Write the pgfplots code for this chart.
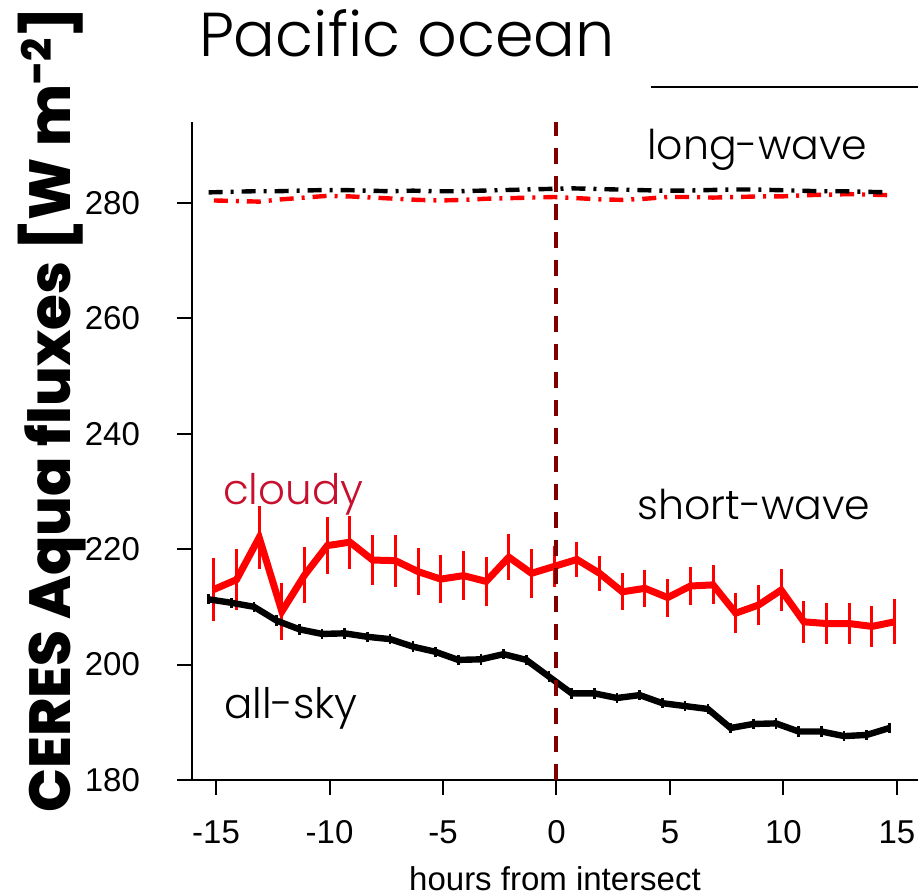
\documentclass[border=0pt]{standalone}
\usepackage{pgfplots}
\pgfplotsset{compat=1.18}
\usepackage{pgfplotstable}
\usepackage{fontspec}
\setmainfont{Liberation Sans}
\newfontfamily\futura{Poppins}[UprightFont=* Light, BoldFont=* ExtraBold]
\definecolor{vline}{HTML}{7F0000}
\definecolor{cloudyc}{HTML}{C8102E}

\pgfplotstableread{
x y e
-15.33 211.3 0.9
-14.33 210.7 0.9
-13.33 210.0 0.9
-12.33 207.6 0.9
-11.33 206.1 0.9
-10.33 205.3 0.9
-9.33 205.4 0.9
-8.33 204.8 0.9
-7.33 204.4 0.9
-6.33 203.1 0.9
-5.33 202.2 0.9
-4.33 200.8 0.9
-3.33 200.9 0.9
-2.33 201.8 0.9
-1.33 200.8 0.9
-0.33 197.9 0.9
0.67 195.0 0.9
1.67 195.0 0.9
2.67 194.2 0.9
3.67 194.7 0.9
4.67 193.3 0.9
5.67 192.8 0.9
6.67 192.3 0.9
7.67 189.0 0.9
8.67 189.7 0.9
9.67 189.8 0.9
10.67 188.4 0.9
11.67 188.4 0.9
12.67 187.6 0.9
13.67 187.8 0.9
14.67 189.0 0.9
}\allsky

\pgfplotstableread{
x y e
-15.1 213.0 5.4
-14.1 214.7 5.3
-13.1 222.0 5.4
-12.1 209.2 4.9
-11.1 215.5 4.9
-10.1 220.6 4.9
-9.1 221.2 4.6
-8.1 218.1 4.4
-7.1 218.0 4.5
-6.1 216.1 4.1
-5.1 214.8 4.1
-4.1 215.4 4.2
-3.1 214.4 4.2
-2.1 218.6 4.0
-1.1 215.8 4.2
-0.1 217.0 3.6
0.9 218.2 3.0
1.9 215.8 3.0
2.9 212.6 3.2
3.9 213.2 3.2
4.9 211.6 3.3
5.9 213.6 3.3
6.9 213.8 3.4
7.9 208.9 3.5
8.9 210.3 3.5
9.9 212.9 3.7
10.9 207.4 3.6
11.9 207.1 3.6
12.9 207.1 3.6
13.9 206.6 3.6
14.9 207.4 3.9
}\cloudy

\pgfplotstableread{
x y
-15.33 281.8
-14.33 281.9
-13.33 282.0
-12.33 282.0
-11.33 282.1
-10.33 282.2
-9.33 282.2
-8.33 282.1
-7.33 282.0
-6.33 282.1
-5.33 282.0
-4.33 282.0
-3.33 282.1
-2.33 282.2
-1.33 282.3
-0.33 282.4
0.67 282.5
1.67 282.4
2.67 282.3
3.67 282.2
4.67 282.1
5.67 282.1
6.67 282.2
7.67 282.3
8.67 282.3
9.67 282.2
10.67 282.1
11.67 282.0
12.67 282.0
13.67 281.9
14.67 281.8
}\lwall

\pgfplotstableread{
x y
-15.1 280.4
-14.1 280.3
-13.1 280.2
-12.1 280.6
-11.1 280.9
-10.1 281.2
-9.1 281.1
-8.1 280.9
-7.1 280.7
-6.1 280.5
-5.1 280.4
-4.1 280.5
-3.1 280.7
-2.1 280.8
-1.1 280.9
-0.1 281.0
0.9 280.8
1.9 280.6
2.9 280.5
3.9 280.7
4.9 281.0
5.9 281.0
6.9 280.9
7.9 281.0
8.9 281.1
9.9 281.1
10.9 281.3
11.9 281.4
12.9 281.5
13.9 281.4
14.9 281.3
}\lwcloudy

\begin{document}
\begin{tikzpicture}
\begin{axis}[
  width=363pt, height=329pt, scale only axis,
  xmin=-16.06, xmax=15.93, ymin=180, ymax=294,
  axis x line*=bottom, axis y line*=left,
  axis line style={line width=1pt, -},
  xtick={-15,-10,...,15}, ytick={180,200,...,280},
  xticklabels={},
  tick align=outside, major tick length=7.5pt,
  tick style={line width=1pt, black},
  ticklabel style={font=\fontsize{16.5}{16.5}\selectfont},
  yticklabel shift=15pt,
  /pgf/number format/assume math mode=true,
  clip=false,
]
\addplot[red, line width=2.2pt, dash pattern=on 7pt off 4pt on 1.5pt off 4pt] table[x=x,y=y] {\lwcloudy};
\addplot[black, line width=2.2pt, dash pattern=on 7pt off 4pt on 1.5pt off 4pt] table[x=x,y=y] {\lwall};
\addplot[red, line width=3.5pt, error bars/.cd, y dir=both, y explicit, error mark=none, error bar style={line width=1.5pt, red}] table[x=x,y=y,y error=e] {\cloudy};
\addplot[black, line width=3.2pt, error bars/.cd, y dir=both, y explicit, error mark=none, error bar style={line width=1.3pt, black}] table[x=x,y=y,y error=e] {\allsky};
\addplot[vline, line width=2pt, dash pattern=on 8pt off 6pt] coordinates {(0,180) (0,294)};

\begin{scope}[every node/.style={anchor=north, inner sep=0pt, yshift=-20pt, font=\fontsize{16.5}{16.5}\selectfont}]
\node at (axis cs:-15,180) {-15};
\node at (axis cs:-10,180) {-10};
\node at (axis cs:-5,180) {-5};
\node at (axis cs:0,180) {0};
\node at (axis cs:5,180) {5};
\node at (axis cs:10,180) {10};
\node at (axis cs:15,180) {15};
\end{scope}

\node[anchor=base, font=\futura\fontsize{20.5}{20.5}\selectfont] at (axis cs:8.85,287.5) {long-wave};
\node[anchor=base, font=\futura\fontsize{20.5}{20.5}\selectfont] at (axis cs:8.7,225.1) {short-wave};
\node[anchor=base, font=\futura\fontsize{21}{21}\selectfont, text=cloudyc] at (axis cs:-11.6,227.7) {cloudy};
\node[anchor=base, font=\futura\fontsize{21}{21}\selectfont] at (axis cs:-11.7,190.7) {all-sky};

\node[anchor=base, font=\futura\fontsize{31}{31}\selectfont] at (axis description cs:0.296,1.099) {Pacific ocean};
\node[anchor=base, font=\fontsize{16.5}{16.5}\selectfont] at (axis description cs:0.5,-0.168) {hours from intersect};
\node[anchor=base, rotate=90, font=\futura\bfseries\fontsize{29}{29}\selectfont] at (axis description cs:-0.168,0.5625) {CERES Aqua fluxes [W m\textsuperscript{-2}]};
\draw[line width=1.2pt] (axis description cs:0.632,1.053) -- (axis description cs:1.0,1.053);

\coordinate (bbl) at (axis description cs:-0.2645,-0.1763);
\coordinate (btr) at (axis description cs:1.0,1.1854);
\end{axis}
\pgfresetboundingbox
\path[use as bounding box] (bbl) rectangle (btr);
\end{tikzpicture}
\end{document}
